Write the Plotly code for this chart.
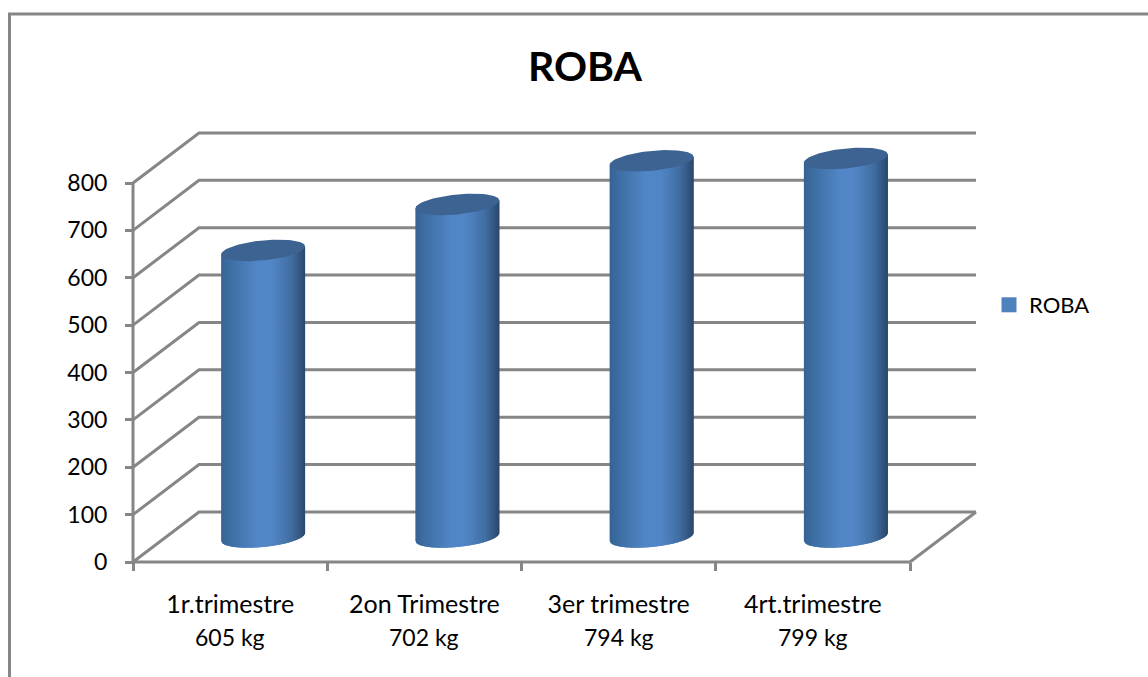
import plotly.graph_objects as go
import numpy as np

categories = ["1r.trimestre", "2on Trimestre", "3er trimestre", "4rt.trimestre"]
weight_labels = ["605 kg", "702 kg", "794 kg", "799 kg"]
values = [605, 702, 794, 799]
y_ticks = [0, 100, 200, 300, 400, 500, 600, 700, 800]
series_name = "ROBA"

W, H = 1148, 677
GRID = "#868686"
FONT = "Lato"

# front origin in pixels; one category = 194.25 px, 800 units = 379 px
org_x, org_y = 133, 562
box_l, box_r, box_b, box_t = 120, 985, 575, 125   # plot box, a little larger than the walls
cat_px = 194.25
val_px = 379 / 800
depth_x = 66 / cat_px
depth_y = 50 / val_px
half_w = 42 / cat_px
ell_b = 10 / val_px
ell_tilt = 4 / val_px

fig = go.Figure()

# walls / gridlines
gx, gy = [], []
for v in y_ticks:
    gx += [0.5, 0.5 + depth_x, 4.5 + depth_x, None]
    gy += [v, v + depth_y, v + depth_y, None]
gx += [4.5, 4.5 + depth_x, None, 0.5, 4.5]
gy += [0, depth_y, None, 0, 0]
fig.add_trace(go.Scatter(x=gx, y=gy, mode="lines", line=dict(color=GRID, width=3),
                         showlegend=False, hoverinfo="skip"))

# cylinder shading
stops = [0, .08, .25, .42, .6, .72, .84, .93, 1]
reds = [0x36, 0x3c, 0x46, 0x52, 0x52, 0x4a, 0x40, 0x35, 0x2a]
grns = [0x63, 0x6c, 0x7a, 0x86, 0x86, 0x7b, 0x6c, 0x59, 0x47]
blus = [0x94, 0xa0, 0xb3, 0xc6, 0xc6, 0xb5, 0xa0, 0x84, 0x6a]
N = 84
edges = np.linspace(-1, 1, N + 1)
for i in range(N):
    t = (i + .5) / N
    col = "rgb(%d,%d,%d)" % (np.interp(t, stops, reds), np.interp(t, stops, grns), np.interp(t, stops, blus))
    sx, sy = [], []
    for k, val in enumerate(values):
        cx = k + 1 + depth_x / 2
        cy = depth_y / 2
        u0 = edges[i]
        u1 = min(edges[i + 1] + 0.02, 1)
        uu = np.linspace(u0, u1, 4)
        bottom = cy - ell_b * np.sqrt(np.clip(1 - uu ** 2, 0, 1)) + ell_tilt * uu
        top_c = cy + val + ell_tilt * uu
        sx += list(cx + half_w * uu) + list(cx + half_w * uu[::-1]) + [None]
        sy += list(bottom) + list(top_c[::-1]) + [None]
    fig.add_trace(go.Scatter(x=sx, y=sy, mode="lines", fill="toself", fillcolor=col,
                             line=dict(width=0, color=col), showlegend=False,
                             hoverinfo="skip"))

# cylinder tops
th = np.linspace(0, 2 * np.pi, 90)
ex, ey = [], []
for k, val in enumerate(values):
    cx = k + 1 + depth_x / 2
    cy = depth_y / 2 + val
    ex += list(cx + half_w * np.cos(th)) + [None]
    ey += list(cy + ell_b * np.sin(th) + ell_tilt * np.cos(th)) + [None]
fig.add_trace(go.Scatter(x=ex, y=ey, mode="lines", fill="toself", fillcolor="#3c6391",
                         line=dict(width=0, color="#3c6391"), showlegend=False,
                         hoverinfo="skip"))

# legend entry
fig.add_trace(go.Scatter(x=[None], y=[None], mode="markers", name=series_name,
                         marker=dict(symbol="square", size=15, color="#4F81BD")))

# second label line under each category
for k, lab in enumerate(weight_labels):
    fig.add_annotation(x=k + 1, xref="x", y=(H - 637) / H, yref="paper", text=lab, showarrow=False,
                       xanchor="center", yanchor="middle", font=dict(family=FONT, size=23, color="#000"))

# front value axis line
fig.add_shape(type="line", xref="x", yref="y", x0=0.5, x1=0.5, y0=y_ticks[0], y1=y_ticks[-1],
              line=dict(color=GRID, width=3), layer="above")

fig.add_shape(type="rect", xref="paper", yref="paper", x0=9.5 / W, x1=1.02, y0=-0.02, y1=1 - 14 / H,
              line=dict(color=GRID, width=3), fillcolor="rgba(0,0,0,0)")

fig.update_layout(
    width=W, height=H, margin=dict(l=0, r=0, t=0, b=0, autoexpand=False),
    paper_bgcolor="white", plot_bgcolor="white",
    title=dict(text="ROBA", x=585 / W, xanchor="center", y=1 - 67 / H, yanchor="middle",
               font=dict(family=FONT, size=41, color="#000", weight="bold")),
    showlegend=True,
    legend=dict(x=989 / W, xanchor="left", y=(H - 305) / H, yanchor="middle", bgcolor="rgba(0,0,0,0)",
                font=dict(family=FONT, size=22, color="#000")),
    xaxis=dict(domain=[box_l / W, box_r / W],
               range=[0.5 + (box_l - org_x) / cat_px, 0.5 + (box_r - org_x) / cat_px],
               anchor="free", position=(H - org_y) / H, automargin=False,
               tickmode="array", tickvals=[1, 2, 3, 4], ticktext=categories, ticks="",
               showgrid=False, zeroline=False, showline=False, ticklabelstandoff=25,
               tickfont=dict(family=FONT, size=25, color="#000"),
               minor=dict(tickmode="array", tickvals=[0.5, 1.5, 2.5, 3.5, 4.5], ticks="outside",
                          ticklen=8, tickwidth=3, tickcolor=GRID, showgrid=False)),
    yaxis=dict(domain=[(H - box_b) / H, (H - box_t) / H],
               range=[(org_y - box_b) / val_px, (org_y - box_t) / val_px],
               anchor="free", position=org_x / W, automargin=False,
               tickmode="array", tickvals=y_ticks, ticks="outside", ticklen=8, tickwidth=3, tickcolor=GRID,
               showgrid=False, zeroline=False, showline=False, ticklabelstandoff=13,
               tickfont=dict(family=FONT, size=23, color="#000")),
)
fig.write_html("out.html", config=dict(displayModeBar=False),
               post_script="document.body.style.margin='0';document.body.style.overflow='hidden';")
